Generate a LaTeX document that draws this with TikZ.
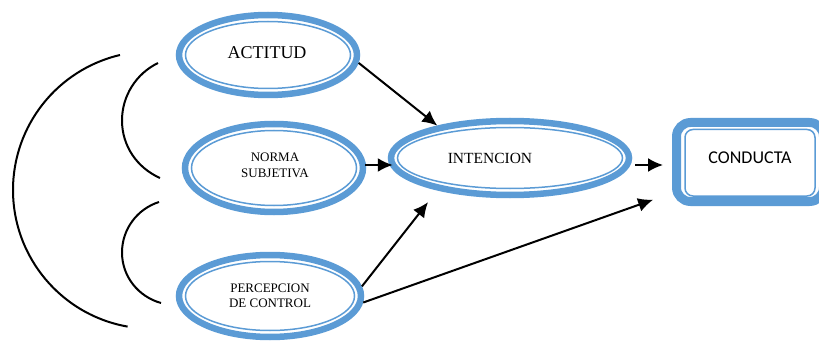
\documentclass[tikz,border=0pt]{standalone}
\usepackage{fontspec}
\setmainfont{Liberation Serif}
\newfontfamily\calfont{Carlito}
\usetikzlibrary{shapes.geometric,arrows.meta,calc}
\definecolor{ovalblue}{HTML}{5B9BD5}
\begin{document}
\begin{tikzpicture}[x=1pt,y=-1pt,
  oval/.style={ellipse, draw=ovalblue, line width=6.5pt, inner sep=0pt, align=center},
  innerline/.style={draw=ovalblue, line width=1.5pt},
  lbl/.style={inner sep=0pt, align=center},
  arr/.style={-{Latex[length=15pt,width=14pt]}, line width=2pt},
  link/.style={line width=2pt}]
\useasboundingbox (0,0) rectangle (819,342);
\clip (0,0) rectangle (819,342);

% ellipses
\node[oval, minimum width=178pt, minimum height=80pt] (act) at (268,55) {};
\draw[innerline] (act.center) ellipse [x radius=82.5, y radius=33.5];
\node[lbl, font=\fontsize{18}{20}\selectfont] (actl) at (267,53) {ACTITUD};

\node[oval, minimum width=178pt, minimum height=88pt] (nor) at (274,168) {};
\draw[innerline] (nor.center) ellipse [x radius=82.5, y radius=37.5];
\node[lbl, font=\fontsize{13}{16}\selectfont] (norl) at (275,165) {NORMA\\SUBJETIVA};

\node[oval, minimum width=182pt, minimum height=82pt] (per) at (270,296) {};
\draw[innerline] (per.center) ellipse [x radius=84.5, y radius=34.5];
\node[lbl, font=\fontsize{13}{15}\selectfont] (perl) at (270,296) {PERCEPCION\\DE CONTROL};

\node[oval, minimum width=238pt, minimum height=74pt] (int) at (510,158) {};
\draw[innerline] (int.center) ellipse [x radius=112.5, y radius=30.5];
\node[lbl, font=\fontsize{15.5}{18}\selectfont] (intl) at (490,158) {INTENCION};

% rounded box
\node[draw=ovalblue, line width=9pt, rounded corners=14pt, minimum width=147pt, minimum height=79pt, inner sep=0pt] (con) at (750,162) {};
\draw[innerline, rounded corners=8pt] ($(con.center)+(-65,-32.5)$) rectangle ($(con.center)+(65,34)$);
\node[lbl, font=\calfont\fontsize{18}{20}\selectfont] (conl) at (750,157.5) {CONDUCTA};

% arrows
\draw[arr] (act.-5) -- (int.156);
\draw[arr] ($(nor.east)+(-1,-3)$) -- ($(nor.east -| int.west)+(5,-3)$);
\draw[arr, shorten >=15pt] (per.6) -- (int.204);
\draw[arr, shorten >=20pt] (per.-4) -- ([yshift=-31pt]con.west);
\draw[arr] ($(int.east)+(3,7)$) -- ($(int.east -| con.west)+(-9,7)$);

% arcs
\coordinate (b1) at (120,55);
\coordinate (b2) at (127.6,326.6);
\draw[link] (b1) .. controls (57.3,69.7) and (13,125.6) .. (13,190)
               .. controls (13,257.3) and (61.3,314.9) .. (b2);
\coordinate (s1) at (158,63);
\coordinate (s2) at (160,178);
\draw[link] (s1) .. controls (136,73.7) and (122,96) .. (122,120.5)
               .. controls (122,145.8) and (136.9,167.7) .. (s2);
\coordinate (t1) at (159,202);
\coordinate (t2) at (161,303);
\draw[link] (t1) .. controls (137,209) and (122,229.4) .. (122,252.5)
               .. controls (122,276.3) and (138.1,296.6) .. (t2);
\end{tikzpicture}
\end{document}
